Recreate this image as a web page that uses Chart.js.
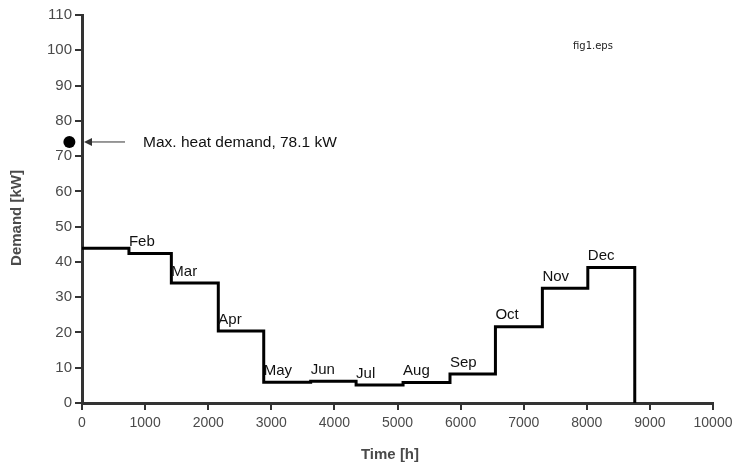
<!DOCTYPE html>
<html>
<head>
<meta charset="utf-8">
<script src="https://cdn.jsdelivr.net/npm/chart.js@4"></script>
<style>
  html, body { margin: 0; padding: 0; background: #fff; }
  #box { width: 734px; height: 467px; }
</style>
</head>
<body>
<div id="box"><canvas id="grafico"></canvas></div>
<script>
// dados
const meses = ['Jan', 'Feb', 'Mar', 'Apr', 'May', 'Jun', 'Jul', 'Aug', 'Sep', 'Oct', 'Nov', 'Dec'];
const inicioMes = [0, 744, 1416, 2160, 2880, 3624, 4344, 5088, 5832, 6552, 7296, 8016];
const fimAno = 8760;
const demanda = [43.9, 42.4, 34.0, 20.4, 5.9, 6.2, 5.1, 5.8, 8.2, 21.6, 32.5, 38.4];
const maxHora = -200;
const maxValor = 74;
const maxTexto = 'Max. heat demand, 78.1 kW';
const xTicks = [0, 1000, 2000, 3000, 4000, 5000, 6000, 7000, 8000, 9000, 10000];
const yTicks = [0, 10, 20, 30, 40, 50, 60, 70, 80, 90, 100, 110];

// montar pontos da curva em degraus
const pontos = inicioMes.map((h, i) => ({ x: h, y: demanda[i] }));
pontos.push({ x: fimAno, y: 0 });

const corEixo = '#333';
const corTexto = '#4a4a4a';
const fonte = '"Liberation Sans", Arial, sans-serif';

// rótulos dos meses, ponto máximo, seta e títulos dos eixos
const anotacoes = {
    id: 'anotacoes',
    afterDatasetsDraw(chart) {
        const ctx = chart.ctx;
        const xs = chart.scales.x, ys = chart.scales.y;
        const area = chart.chartArea;
        ctx.save();
        ctx.fillStyle = '#111';
        ctx.font = '15px ' + fonte;
        ctx.textAlign = 'left';
        ctx.textBaseline = 'bottom';
        meses.forEach((m, i) => {
            if (i === 0) return;
            const px = xs.getPixelForValue(inicioMes[i]);
            const py = ys.getPixelForValue(demanda[i]);
            ctx.fillText(m, px, py - 4);
        });

        // ponto da demanda máxima
        const py = ys.getPixelForValue(maxValor);
        ctx.fillStyle = '#000';
        ctx.beginPath();
        ctx.arc(xs.getPixelForValue(maxHora), py, 6, 0, Math.PI * 2);
        ctx.fill();

        // seta
        const ponta = xs.getPixelForValue(0) + 2;
        ctx.strokeStyle = '#333';
        ctx.lineWidth = 1;
        ctx.beginPath();
        ctx.moveTo(ponta + 41, py);
        ctx.lineTo(ponta + 4, py);
        ctx.stroke();
        ctx.fillStyle = '#333';
        ctx.beginPath();
        ctx.moveTo(ponta, py);
        ctx.lineTo(ponta + 8, py - 4);
        ctx.lineTo(ponta + 8, py + 4);
        ctx.closePath();
        ctx.fill();

        ctx.fillStyle = '#111';
        ctx.font = '15.5px ' + fonte;
        ctx.textBaseline = 'middle';
        ctx.fillText(maxTexto, ponta + 59, py + 1);

        ctx.font = '10px "DejaVu Sans", sans-serif';
        ctx.fillStyle = '#222';
        ctx.fillText('fig1.eps', 573, 46);

        // títulos dos eixos
        ctx.fillStyle = corTexto;
        ctx.font = 'bold 15px ' + fonte;
        ctx.textAlign = 'center';
        ctx.fillText('Time [h]', 390, 455);
        ctx.translate(17, (area.top + area.bottom) / 2 + 9);
        ctx.rotate(-Math.PI / 2);
        ctx.fillText('Demand [kW]', 0, 0);
        ctx.restore();
    }
};

new Chart(document.getElementById('grafico'), {
    type: 'line',
    data: {
        datasets: [
            {
                label: 'Demand',
                data: pontos,
                stepped: true,
                borderColor: '#000',
                borderWidth: 3,
                pointRadius: 0,
                fill: false
            }
        ]
    },
    options: {
        responsive: true,
        maintainAspectRatio: false,
        animation: false,
        layout: { padding: { top: 15, right: 21, left: 0, bottom: 0 } },
        plugins: {
            legend: { display: false },
            tooltip: { enabled: false }
        },
        scales: {
            x: {
                type: 'linear',
                min: 0,
                max: 10000,
                afterBuildTicks: s => { s.ticks = xTicks.map(v => ({ value: v })); },
                afterFit: s => { s.height = 64; s.paddingRight = 0; },
                border: { color: corEixo, width: 3 },
                grid: { drawOnChartArea: false, tickLength: 7, color: corEixo, lineWidth: 2 },
                ticks: {
                    color: corTexto,
                    padding: 5,
                    maxRotation: 0,
                    callback: v => String(v),
                    font: { family: fonte, size: 14 }
                }
            },
            y: {
                min: 0,
                max: 110,
                afterBuildTicks: s => { s.ticks = yTicks.map(v => ({ value: v })); },
                afterFit: s => { s.width = 82; },
                border: { color: corEixo, width: 3 },
                grid: { drawOnChartArea: false, tickLength: 7, color: corEixo, lineWidth: 2 },
                ticks: {
                    color: corTexto,
                    padding: 3,
                    callback: v => String(v),
                    font: { family: fonte, size: 15 }
                }
            }
        }
    },
    plugins: [anotacoes]
});
</script>
</body>
</html>
